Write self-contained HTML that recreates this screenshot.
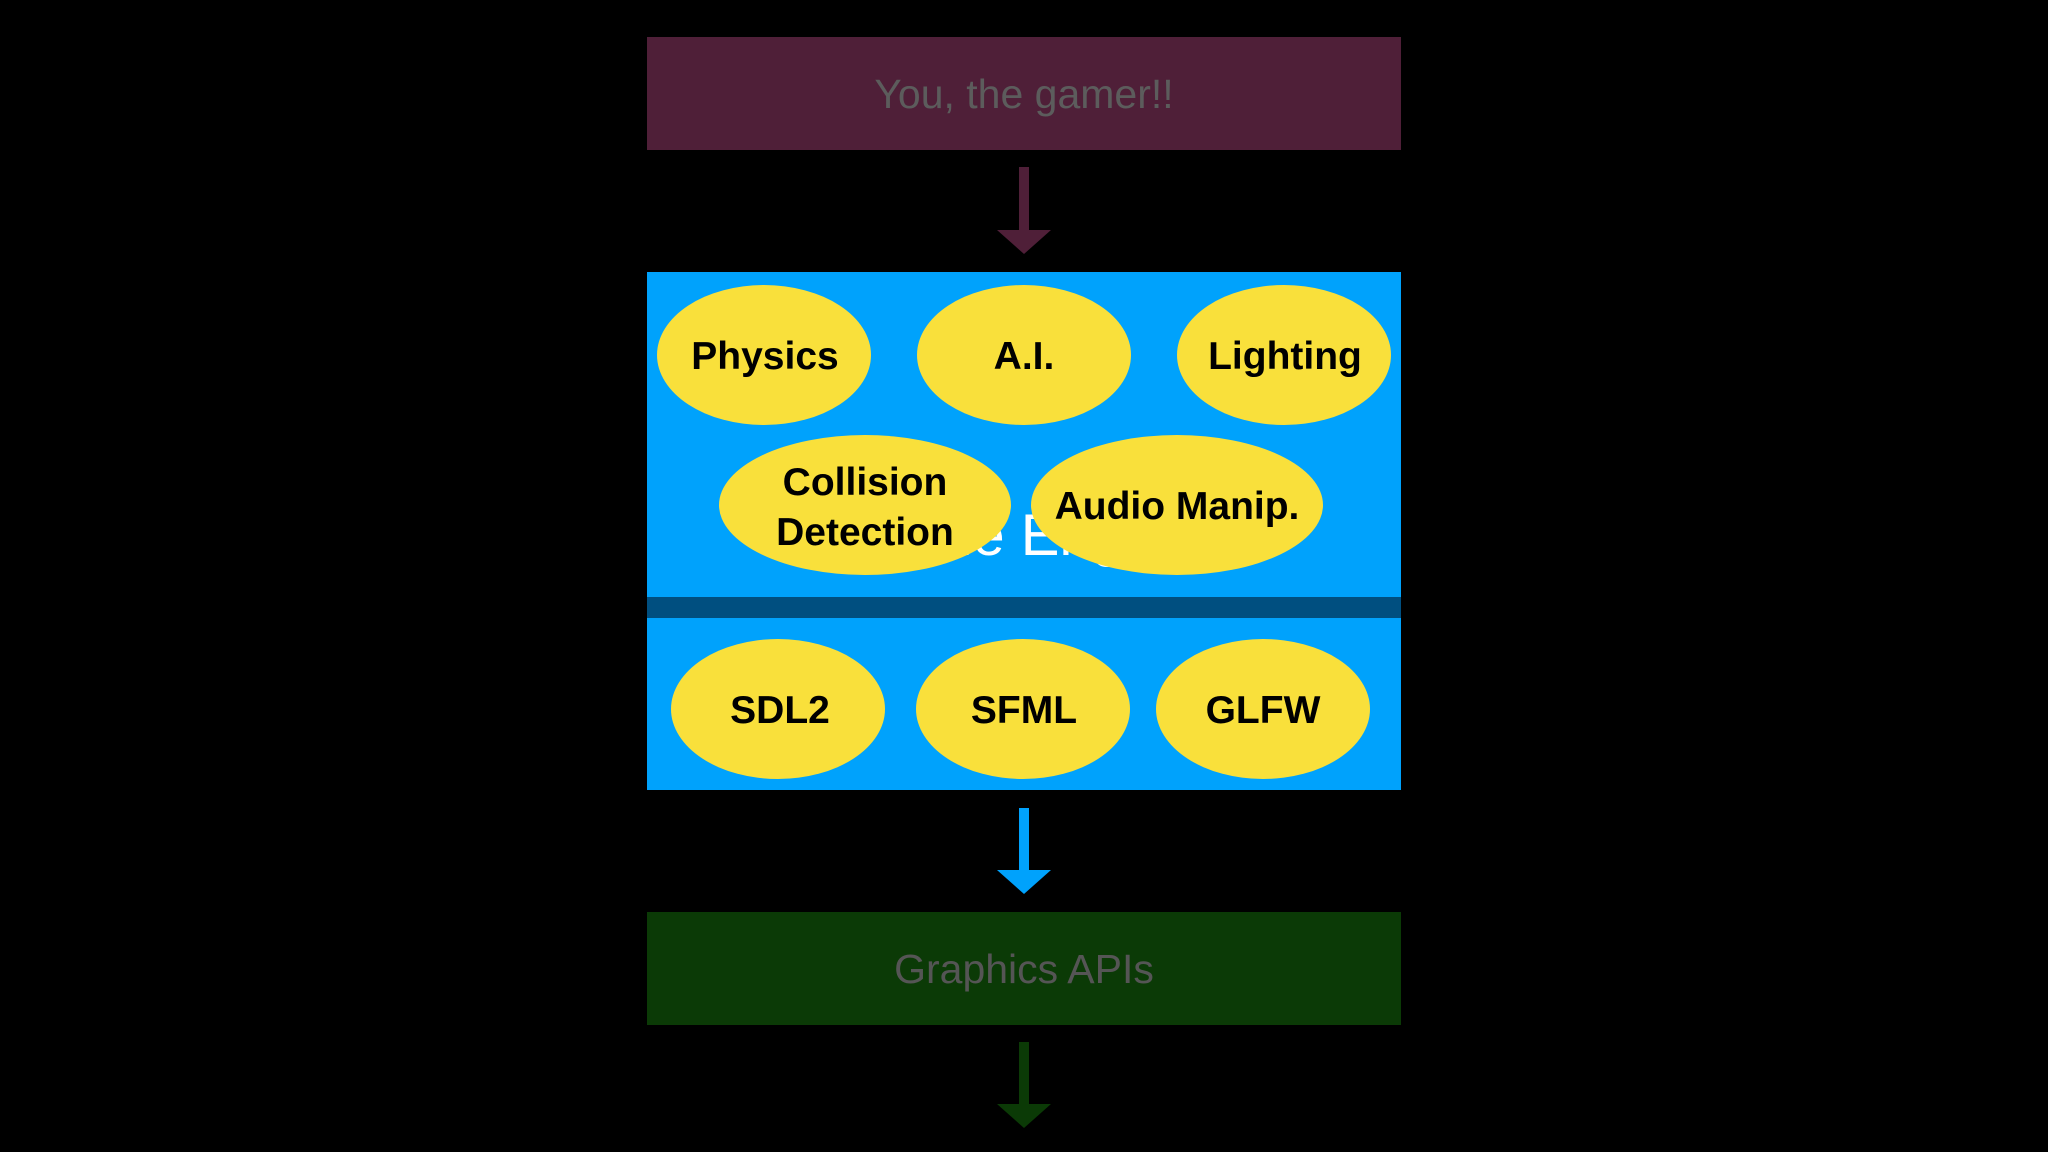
<!DOCTYPE html>
<html><head><style>html,body{margin:0;padding:0;background:#000}svg{display:block}</style></head>
<body>
<svg width="2048" height="1152" viewBox="0 0 2048 1152" xmlns="http://www.w3.org/2000/svg" font-family="'Liberation Sans', sans-serif">
<rect width="2048" height="1152" fill="#000"/>
<rect x="647" y="37" width="754" height="113" fill="#4f1f38"/>
<text x="1024" y="108" font-size="41" fill="#5c5c5c" text-anchor="middle">You, the gamer!!</text>
<rect x="1019" y="167" width="10" height="67" fill="#4f1f38"/>
<polygon points="997,230 1051,230 1024,254" fill="#4f1f38"/>
<rect x="647" y="272" width="754" height="518" fill="#00a2fc"/>
<rect x="647" y="597" width="754" height="21" fill="#004f80"/>
<text x="1024" y="555" font-size="58" fill="#fff" text-anchor="middle">Game Engine</text>
<g fill="#f9e03b">
<ellipse cx="764" cy="355" rx="107" ry="70"/>
<ellipse cx="1024" cy="355" rx="107" ry="70"/>
<ellipse cx="1284" cy="355" rx="107" ry="70"/>
<ellipse cx="865" cy="505" rx="146" ry="70"/>
<ellipse cx="1177" cy="505" rx="146" ry="70"/>
<ellipse cx="778" cy="709" rx="107" ry="70"/>
<ellipse cx="1023" cy="709" rx="107" ry="70"/>
<ellipse cx="1263" cy="709" rx="107" ry="70"/>
</g>
<g font-size="39" font-weight="bold" fill="#000" text-anchor="middle">
<text x="765" y="369">Physics</text>
<text x="1024" y="369">A.I.</text>
<text x="1285" y="369">Lighting</text>
<text x="865" y="495">Collision</text>
<text x="865" y="545">Detection</text>
<text x="1177" y="519">Audio Manip.</text>
<text x="780" y="723">SDL2</text>
<text x="1024" y="723">SFML</text>
<text x="1263" y="723">GLFW</text>
</g>
<rect x="1019" y="808" width="10" height="66" fill="#00a2fc"/>
<polygon points="997,870 1051,870 1024,894" fill="#00a2fc"/>
<rect x="647" y="912" width="754" height="113" fill="#0b3a06"/>
<text x="1024" y="983" font-size="41" fill="#555" text-anchor="middle">Graphics APIs</text>
<rect x="1019" y="1042" width="10" height="66" fill="#0b3a06"/>
<polygon points="997,1104 1051,1104 1024,1128" fill="#0b3a06"/>
</svg>
</body></html>
